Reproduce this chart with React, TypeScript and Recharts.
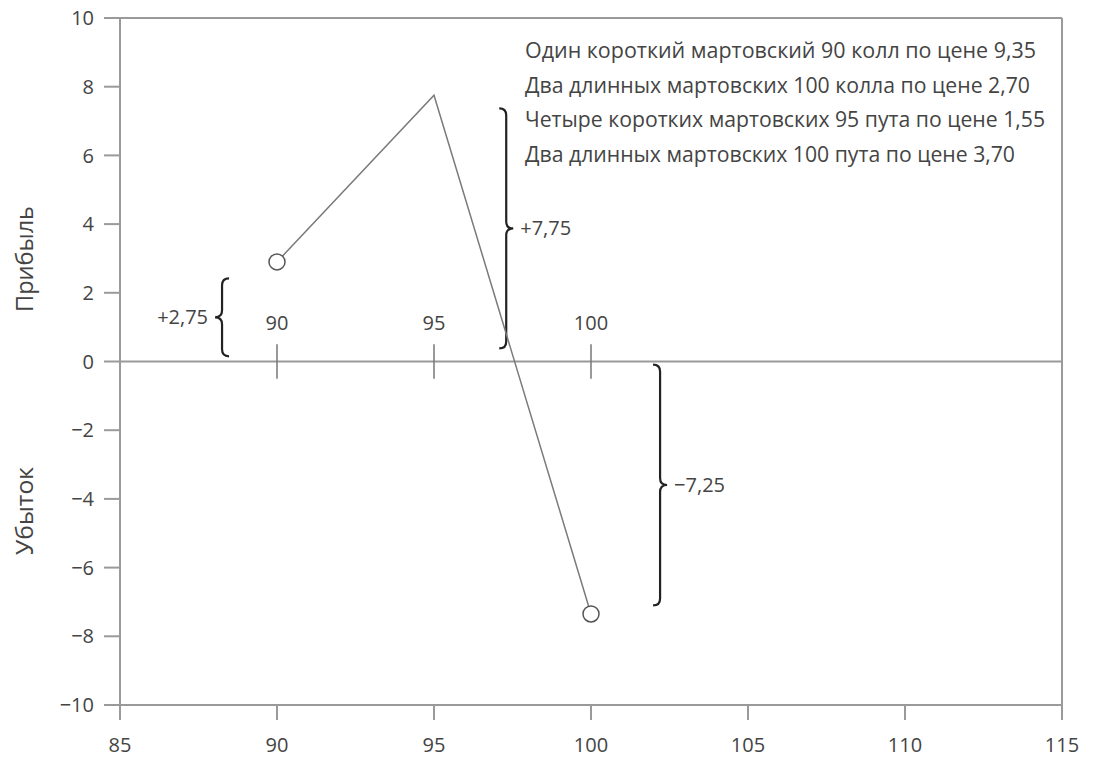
import React from 'react'
import { LineChart, Line, XAxis, YAxis, ReferenceLine } from 'recharts'

// payoff at expiry (strike -> profit/loss)
const strikes = [90, 95, 100]
const pnl = [2.9, 7.75, -7.35]

const xTicks = [85, 90, 95, 100, 105, 110, 115]
const yTicks = [-10, -8, -6, -4, -2, 0, 2, 4, 6, 8, 10]

// strike marks drawn on the zero line
const strikeMarks = [90, 95, 100]

// braces: x position, low/high y, label, which way the tip points
const braceX = [88.25, 97.3, 102.2]
const braceLow = [0.15, 0.38, -0.09]
const braceHigh = [2.42, 7.37, -7.1]
const braceLabels = ['+2,75', '+7,75', '\u22127,25']
const braceDir = [-1, 1, 1]

const legendLines = [
  'Один короткий мартовский 90 колл по цене 9,35',
  'Два длинных мартовских 100 колла по цене 2,70',
  'Четыре коротких мартовских 95 пута по цене 1,55',
  'Два длинных мартовских 100 пута по цене 3,70',
]
const legendWidths = [511, 505, 520, 490]

const data = strikes.map((s, i) => ({ x: s, y: pnl[i] }))

const FONT = '"Open Sans", "Noto Sans", sans-serif'
const TEXT = '#444'
const AXIS = '#9a9a9a'

const fmt = (v: number) => (v < 0 ? '\u2212' + Math.abs(v) : String(v))

const EndDot = (props: any) => {
  const { cx, cy, index } = props
  if (index !== 0 && index !== data.length - 1) return <g key={'d' + index} />
  return <circle key={'d' + index} cx={cx} cy={cy} r={8} fill="#fff" stroke="#555" strokeWidth={1.5} />
}

const makeStrikeMark = (label: string) => (props: any) => {
  const { x1, y1, y2 } = props
  const top = Math.min(y1, y2)
  return (
    <g>
      <line x1={x1} y1={y1} x2={x1} y2={y2} stroke="#777" strokeWidth={1.5} />
      <text x={x1} y={top - 14} textAnchor="middle" fill={TEXT} fontSize={20} fontFamily={FONT}>
        {label}
      </text>
    </g>
  )
}

const makeBrace = (label: string, dir: number) => (props: any) => {
  const { x1, y1, y2 } = props
  const top = Math.min(y1, y2)
  const bot = Math.max(y1, y2)
  const mid = (top + bot) / 2
  const w = 7
  const x = x1
  const d =
    `M ${x - dir * w} ${top} Q ${x} ${top} ${x} ${top + w} ` +
    `L ${x} ${mid - w} Q ${x} ${mid} ${x + dir * w} ${mid} ` +
    `Q ${x} ${mid} ${x} ${mid + w} L ${x} ${bot - w} Q ${x} ${bot} ${x - dir * w} ${bot}`
  return (
    <g>
      <path d={d} fill="none" stroke="#222" strokeWidth={2.2} />
      <text
        x={x + dir * (w + 7)}
        y={mid}
        dy="0.35em"
        textAnchor={dir > 0 ? 'start' : 'end'}
        fill={TEXT}
        fontSize={20}
        fontFamily={FONT}
      >
        {label}
      </text>
    </g>
  )
}

export default function App() {
  return (
    <div style={{ position: 'absolute', top: 0, left: 0, width: 1095, height: 762, background: '#fff' }}>
      <LineChart width={1095} height={762} data={data} margin={{ top: 18, right: 33, bottom: 0, left: 0 }}>
        <XAxis
          dataKey="x"
          type="number"
          domain={[85, 115]}
          ticks={xTicks}
          interval={0}
          tickSize={15}
          tickMargin={18}
          height={57}
          stroke={AXIS}
          strokeWidth={2}
          tick={{ fill: TEXT, fontSize: 20, fontFamily: FONT }}
        />
        <YAxis
          type="number"
          domain={[-10, 10]}
          ticks={yTicks}
          interval={0}
          tickSize={16}
          tickMargin={10}
          width={120}
          stroke={AXIS}
          strokeWidth={2}
          tickFormatter={fmt}
          tick={{ fill: TEXT, fontSize: 20, fontFamily: FONT }}
        />
        <ReferenceLine y={10} stroke={AXIS} strokeWidth={2} />
        <ReferenceLine x={115} stroke={AXIS} strokeWidth={2} />
        <ReferenceLine y={0} stroke={AXIS} strokeWidth={2} />
        {strikeMarks.map((s) => (
          <ReferenceLine
            key={'s' + s}
            segment={[{ x: s, y: -0.5 }, { x: s, y: 0.5 }]}
            shape={makeStrikeMark(String(s))}
          />
        ))}
        {braceX.map((bx, i) => (
          <ReferenceLine
            key={'b' + i}
            segment={[{ x: bx, y: braceHigh[i] }, { x: bx, y: braceLow[i] }]}
            shape={makeBrace(braceLabels[i], braceDir[i])}
          />
        ))}
        <Line
          type="linear"
          dataKey="y"
          stroke="#7a7a7a"
          strokeWidth={1.5}
          dot={EndDot}
          activeDot={false}
          isAnimationActive={false}
        />
      </LineChart>
      <svg
        width={1095}
        height={762}
        style={{ position: 'absolute', top: 0, left: 0, pointerEvents: 'none' }}
      >
        {legendLines.map((t, i) => (
          <text
            key={i}
            x={525}
            y={58 + i * 34.5}
            fill={TEXT}
            fontSize={21}
            fontFamily={FONT}
            textLength={legendWidths[i]}
            lengthAdjust="spacingAndGlyphs"
          >
            {t}
          </text>
        ))}
        <text
          x={33}
          y={259}
          transform="rotate(-90 33 259)"
          textAnchor="middle"
          fill={TEXT}
          fontSize={23}
          fontFamily={FONT}
          textLength={106}
          lengthAdjust="spacingAndGlyphs"
        >
          Прибыль
        </text>
        <text
          x={33}
          y={511}
          transform="rotate(-90 33 511)"
          textAnchor="middle"
          fill={TEXT}
          fontSize={23}
          fontFamily={FONT}
          textLength={88}
          lengthAdjust="spacingAndGlyphs"
        >
          Убыток
        </text>
      </svg>
    </div>
  )
}
